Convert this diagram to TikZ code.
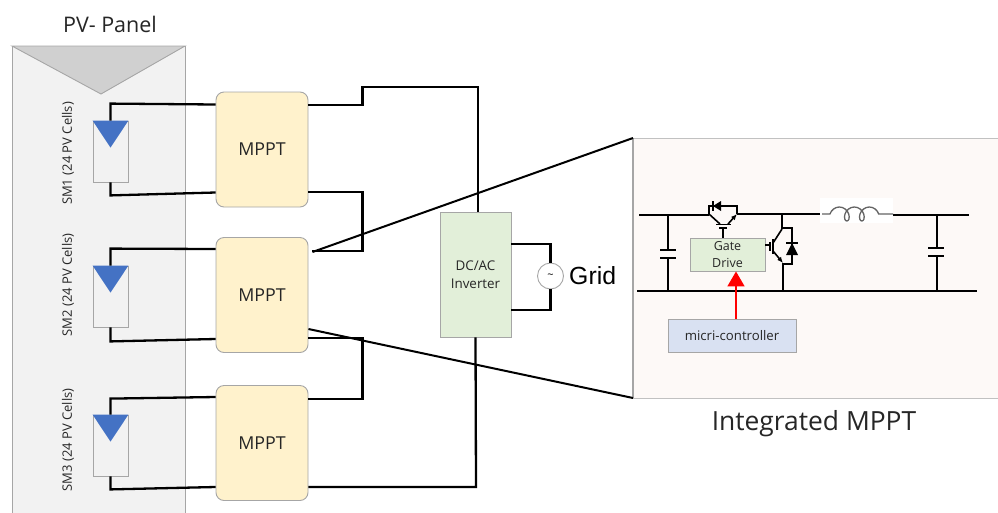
\documentclass[tikz,border=0pt]{standalone}
\usepackage{fontspec}
\setmainfont{Open Sans}
\newfontfamily\gridfont{Liberation Sans}
\usetikzlibrary{arrows.meta}
\usetikzlibrary{decorations.pathmorphing}

\definecolor{panelfill}{HTML}{F2F2F2}
\definecolor{panelgray}{HTML}{D0D0D0}
\definecolor{edgegray}{HTML}{A6A6A6}
\definecolor{cellblue}{HTML}{4472C4}
\definecolor{mpptfill}{HTML}{FFF2CC}
\definecolor{greenfill}{HTML}{E2EFD9}
\definecolor{bluefill}{HTML}{D9E1F2}
\definecolor{insetfill}{HTML}{FDF9F7}
\definecolor{textgray}{HTML}{262626}

\tikzset{
  wire/.style={line width=2.3pt, line join=miter},
  zoomline/.style={line width=2pt},
  cct/.style={line width=1.6pt},
  cellbox/.style={draw=edgegray, fill=panelfill, line width=0.8pt, minimum width=35pt, minimum height=61pt, inner sep=0pt},
  mpptbox/.style={draw=edgegray, fill=mpptfill, line width=0.9pt, rounded corners=8pt, minimum width=92pt, minimum height=115pt, inner sep=0pt, font=\fontsize{17.8}{20}\selectfont, text=textgray},
  smlabel/.style={rotate=90, inner sep=0pt, font=\fontsize{13}{15}\selectfont, text=textgray},
  greenbox/.style={draw=edgegray, fill=greenfill, line width=0.9pt, inner sep=0pt, align=center, text=textgray},
  redarrow/.style={draw=red, line width=1.8pt, -{Triangle[length=15pt, width=17pt]}}
}

\begin{document}
\begin{tikzpicture}[x=1pt, y=-1pt]

  \useasboundingbox (0,0) rectangle (998,512);

  % PV panel, runs off the bottom edge
  \draw[edgegray, fill=panelfill, line width=0.9pt] (12,520) -- (12,46) -- (185,46) -- (185,520);
  \draw[edgegray, fill=panelgray, line width=0.9pt] (12,46) -- (185,46) -- (101,94) -- cycle;
  \node[inner sep=0pt, font=\fontsize{21.5}{24}\selectfont, text=textgray] (PanelLabel) at (110,24) {PV- Panel};

  % Inset behind everything else
  \fill[insetfill] (633,138) rectangle (998,398);
  \draw[edgegray!70, line width=0.9pt] (998,138) -- (633,138);
  \draw[edgegray!70, line width=0.9pt] (633,398) -- (998,398);
  \draw[edgegray, line width=1.4pt] (633,138) -- (633,398);
  \coordinate (InsetTop) at (633,138);
  \coordinate (InsetBottom) at (633,398);
  \node[inner sep=0pt, font=\fontsize{26.4}{30}\selectfont, text=textgray] (InsetLabel) at (814,424) {Integrated MPPT};

  % Sub-modules
  \node[cellbox] (SM1) at (110.5,151.5) {};
  \node[cellbox] (SM2) at (110.5,296.5) {};
  \node[cellbox] (SM3) at (110.5,445.5) {};

  \fill[cellblue] (SM1.north west) -- (SM1.north east) -- ([yshift=-27pt]SM1.north) -- cycle;
  \fill[cellblue] (SM2.north west) -- (SM2.north east) -- ([yshift=-27pt]SM2.north) -- cycle;
  \fill[cellblue] (SM3.north west) -- (SM3.north east) -- ([yshift=-27pt]SM3.north) -- cycle;

  \node[smlabel] (SM1Label) at (68,153.5) {SM1 (24 PV Cells)};
  \node[smlabel] (SM2Label) at (68,285) {SM2 (24 PV Cells)};
  \node[smlabel] (SM3Label) at (68,440) {SM3 (24 PV Cells)};

  % Converters
  \node[mpptbox] (MPPT1) at (262,149.5) {MPPT};
  \node[mpptbox] (MPPT2) at (262,295) {MPPT};
  \node[mpptbox] (MPPT3) at (262,443) {MPPT};

  % Inverter and grid
  \node[greenbox, minimum width=71pt, minimum height=125pt, font=\fontsize{13.4}{18}\selectfont] (Inverter) at (475.5,274.5) {DC/AC\\Inverter};
  \node[circle, draw=edgegray, fill=white, line width=0.9pt, minimum size=26pt, inner sep=0pt, font=\fontsize{11}{11}\selectfont] (Source) at (550.5,276) {\textasciitilde};
  \node[anchor=west, inner sep=0pt, font=\gridfont\fontsize{24.8}{28}\selectfont] (GridLabel) at (569,276) {Grid};

  % Cell to converter
  \draw[wire] (SM1.north) -- ++(0,-17) -- ([yshift=45pt]MPPT1.west);
  \draw[wire] (SM1.south) -- ++(0,13) -- ([yshift=-43pt]MPPT1.west);
  \draw[wire] (SM2.north) -- ++(0,-17) -- ([yshift=46pt]MPPT2.west);
  \draw[wire] (SM2.south) -- ++(0,14) -- ([yshift=-44pt]MPPT2.west);
  \draw[wire] (SM3.north) -- ++(0,-16) -- ([yshift=46pt]MPPT3.west);
  \draw[wire] (SM3.south) -- ++(0,13) -- ([yshift=-44pt]MPPT3.west);

  % Converters in series with the inverter
  \draw[wire] ([yshift=44.5pt]MPPT1.east) -- ++(54,0) -- ++(0,-18) -- (478,87) -- ([xshift=2.5pt]Inverter.north);
  \draw[wire] ([yshift=-42.5pt]MPPT1.east) -- ++(54,0) -- ++(0,59) -- ([yshift=44pt,xshift=4pt]MPPT2.east);
  \draw[wire] ([yshift=-43pt]MPPT2.east) -- ++(54,0) -- ++(0,61) -- ([yshift=44pt]MPPT3.east);
  \draw[wire] ([yshift=-44pt]MPPT3.east) -- (476,487) -- (Inverter.south);

  % Inverter to grid
  \draw[wire] ([yshift=30.5pt]Inverter.east) -- (550.5,244) -- (Source.north);
  \draw[wire] ([yshift=-35.5pt]Inverter.east) -- (550.5,310) -- (Source.south);

  % Lines out to the inset
  \draw[zoomline] ([yshift=43pt,xshift=4pt]MPPT2.east) -- (InsetTop);
  \draw[zoomline] ([yshift=-34pt]MPPT2.east) -- (InsetBottom);

  % Notable points of the converter circuit
  \coordinate (TopLeft) at (639,215);
  \coordinate (TopRight) at (969,215);
  \coordinate (BotLeft) at (637,291);
  \coordinate (BotRight) at (977,291);

  % Rails
  \draw[cct] (TopLeft) -- (709,215);
  \draw[cct] (737,214) -- (822,214);
  \draw[cct] (892,215) -- (TopRight);
  \draw[cct] (BotLeft) -- (BotRight);

  % Inductor
  \fill[white] (820,198) rectangle (893,223);
  \draw[edgegray!60!black, line width=1.3pt, decorate, decoration={coil, aspect=0.8, amplitude=7pt, segment length=15pt, pre length=8pt, post length=8pt}] (822,214) -- (893,214);

  % Capacitors
  \draw[cct] (668,215) -- (668,250);
  \draw[cct] (660,250) -- (676,250);
  \draw[cct] (660,258) -- (676,258);
  \draw[cct] (668,258) -- (668,291);
  \draw[cct] (937,215) -- (937,248);
  \draw[cct] (928,248) -- (944,248);
  \draw[cct] (928,256) -- (944,256);
  \draw[cct] (937,256) -- (937,291);

  % Upper switch with its diode
  \draw[cct] (709,215) -- (709,206) -- (737,206) -- (737,214);
  \fill (721,201) -- (721,211) -- (713,206) -- cycle;
  \draw[line width=1.2pt] (713,201) -- (713,211);
  \draw[cct] (709,214) -- (720,224);
  \draw[cct, -{Latex[length=6pt, width=5pt]}] (728,224) -- (737,214);
  \draw[cct] (716,224.5) -- (731,224.5);
  \draw[cct] (719,228) -- (727,228);

  % Lower switch with its diode
  \draw[cct] (782,214) -- (782,228) -- (792,228) -- (792,264) -- (783,264) -- (783,291);
  \draw[cct] (773,243) -- (782,229);
  \draw[cct, -{Latex[length=6pt, width=5pt]}] (773,251) -- (783,263);
  \draw[cct] (773,239) -- (773,254);
  \draw[cct] (770,242) -- (770,251);
  \fill (792,243) -- (798,255) -- (786,255) -- cycle;
  \draw[line width=1.2pt] (786,243) -- (798,243);

  % Gate drive and controller
  \node[greenbox, minimum width=75pt, minimum height=33pt, font=\fontsize{12.5}{17}\selectfont] (GateDrive) at (727.5,254.5) {Gate\\Drive};
  \node[draw=edgegray, fill=bluefill, line width=0.9pt, minimum width=128pt, minimum height=33pt, inner sep=0pt, font=\fontsize{13.2}{15}\selectfont, text=textgray] (Controller) at (732,335.5) {micri-controller};
  \draw[cct] (723,228) -- ([xshift=-4.5pt]GateDrive.north);
  \draw[cct] ([yshift=9.5pt]GateDrive.east) -- (770,245);
  \draw[redarrow] ([xshift=4pt]Controller.north) -- ([xshift=8.5pt]GateDrive.south);

\end{tikzpicture}
\end{document}
